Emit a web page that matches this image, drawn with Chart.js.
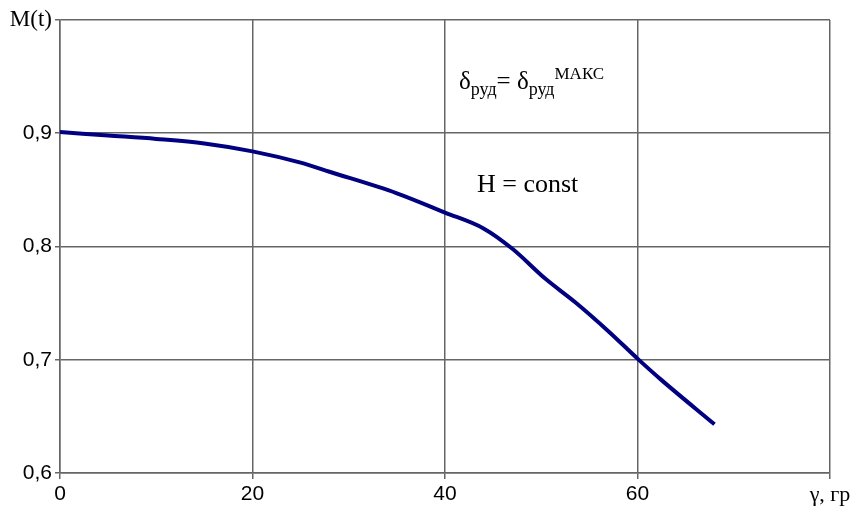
<!DOCTYPE html>
<html>
<head>
<meta charset="utf-8">
<script src="https://cdn.jsdelivr.net/npm/chart.js@4"></script>
<style>
  html, body { margin: 0; padding: 0; background: #fff; }
  #wrap { width: 862px; height: 515px; }
</style>
</head>
<body>
<div id="wrap"><canvas id="curve"></canvas></div>
<script>
// угол γ, гр
const gamma = [0, 5, 10, 15, 20, 25, 28, 35, 40, 44, 47, 50.5, 53.5, 57, 60, 62.5, 68]
// M(t)
const mValues = [0.901, 0.898, 0.895, 0.891, 0.884, 0.874, 0.866, 0.847, 0.830, 0.816, 0.798, 0.771, 0.751, 0.725, 0.701, 0.682, 0.643]

const xTicks = [0, 20, 40, 60]
const xAxisName = 'γ, гр'
const yTicks = [0.6, 0.7, 0.8, 0.9]
const yAxisName = 'M(t)'

const points = gamma.map(function(g, i) {
        return { x: g, y: mValues[i] }
})

const gridColor = '#666666'
const serif = '"Liberation Serif", "Times New Roman", serif'
const sans = '"Liberation Sans", Arial, sans-serif'

// подписи внутри поля графика
const notes = {
        id: 'notes',
        afterDraw(chart) {
                const ctx = chart.ctx
                ctx.save()
                ctx.fillStyle = '#000'
                ctx.textBaseline = 'alphabetic'
                ctx.textAlign = 'left'

                let x = 459
                const base = 89
                ctx.font = '25px ' + serif
                ctx.fillText('δ', x, base)
                x += ctx.measureText('δ').width
                ctx.font = '18px ' + serif
                ctx.fillText('руд', x, base + 6)
                x += ctx.measureText('руд').width
                ctx.font = '25px ' + serif
                ctx.fillText('= δ', x, base)
                x += ctx.measureText('= δ').width
                ctx.font = '18px ' + serif
                ctx.fillText('руд', x, base + 6)
                x += ctx.measureText('руд').width
                ctx.font = '17px ' + serif
                ctx.fillText('МАКС', x, base - 10)

                ctx.font = '26px ' + serif
                ctx.fillText('H = const', 477, 192)
                ctx.restore()
        }
}

new Chart(document.getElementById('curve'), {
        type: 'line',
        data: {
                datasets: [{
                        data: points,
                        borderColor: '#000080',
                        borderWidth: 4,
                        pointRadius: 0,
                        cubicInterpolationMode: 'monotone',
                        fill: false
                }]
        },
        options: {
                responsive: true,
                maintainAspectRatio: false,
                animation: false,
                layout: { padding: { top: 20, right: 32, left: 0, bottom: 0 } },
                plugins: {
                        legend: { display: false },
                        tooltip: { enabled: false }
                },
                scales: {
                        x: {
                                type: 'linear',
                                min: 0,
                                max: 80,
                                afterBuildTicks(scale) {
                                        scale.ticks = xTicks.concat([80]).map(function(v) { return { value: v } })
                                },
                                afterFit(scale) { scale.height = 42 },
                                grid: { color: gridColor, lineWidth: 1.5, tickLength: 6 },
                                border: { color: gridColor, width: 1.5 },
                                ticks: {
                                        color: '#000',
                                        padding: 3,
                                        maxRotation: 0,
                                        font: function(c) {
                                                return c.tick && c.tick.value === 80
                                                        ? { family: serif, size: 22 }
                                                        : { family: sans, size: 21 }
                                        },
                                        callback: function(v) {
                                                return v === 80 ? xAxisName : String(v)
                                        }
                                }
                        },
                        y: {
                                type: 'linear',
                                min: 0.6,
                                max: 1.0,
                                afterBuildTicks(scale) {
                                        scale.ticks = yTicks.concat([1.0]).map(function(v) { return { value: v } })
                                },
                                afterFit(scale) { scale.width = 60 },
                                grid: { color: gridColor, lineWidth: 1.5, tickLength: 5 },
                                border: { color: gridColor, width: 1.5 },
                                ticks: {
                                        color: '#000',
                                        padding: 3,
                                        font: function(c) {
                                                return c.tick && c.tick.value === 1.0
                                                        ? { family: serif, size: 23 }
                                                        : { family: sans, size: 21 }
                                        },
                                        callback: function(v) {
                                                if (Math.abs(v - 1.0) < 1e-9) return yAxisName
                                                return v.toFixed(1).replace('.', ',')
                                        }
                                }
                        }
                }
        },
        plugins: [notes]
})
</script>
</body>
</html>
